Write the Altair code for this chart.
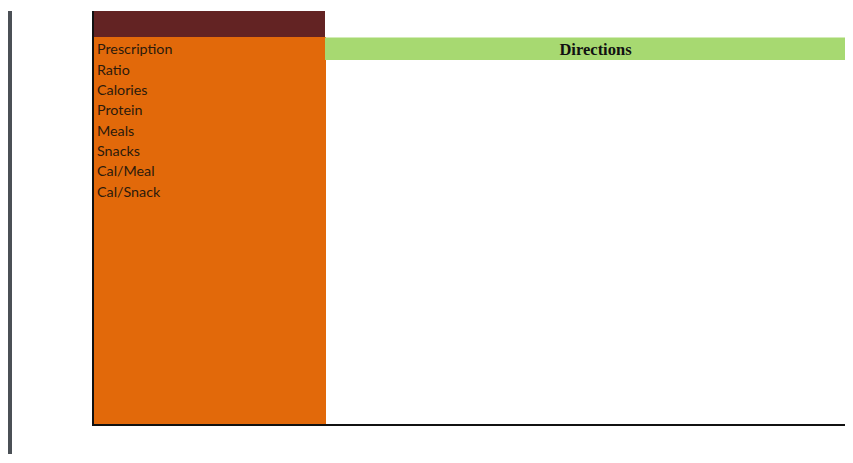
import altair as alt
import pandas as pd

# Row labels of the left panel
labels = ["Prescription", "Ratio", "Calories", "Protein", "Meals", "Snacks", "Cal/Meal", "Cal/Snack"]
header_text = ["Directions"]

# Layout blocks (spreadsheet-like regions), in chart pixel units
block_names = ["sidebar", "frame_left", "header", "panel", "directions_bar", "frame_bottom"]
block_x1 = [0, 84, 86, 86, 317, 85]
block_x2 = [4, 86, 317, 318, 845, 845]
block_y1 = [3, 3, 3, 29, 29.5, 416]
block_y2 = [447, 418, 29.5, 416, 52, 418]
block_colors = ["#4b5056", "#111111", "#632323", "#e2690a", "#a7d971", "#111111"]

W, H = 837, 446

blocks = pd.DataFrame({
    "name": block_names, "x1": block_x1, "x2": block_x2,
    "y1": block_y1, "y2": block_y2, "color": block_colors,
})

xs = alt.Scale(domain=[0, W], range=[0, W], nice=False, zero=False)
ys = alt.Scale(domain=[0, H], range=[0, H], nice=False, zero=False)

rects = alt.Chart(blocks).mark_rect().encode(
    x=alt.X("x1:Q", scale=xs, axis=None),
    x2="x2:Q",
    y=alt.Y("y1:Q", scale=ys, axis=None),
    y2="y2:Q",
    color=alt.Color("color:N", scale=None),
)

lab_df = pd.DataFrame({"label": labels})
label_text = alt.Chart(lab_df).mark_text(
    align="left", baseline="alphabetic", font="Lato", fontSize=14.3, color="#2b1a0c"
).encode(
    x=alt.value(89),
    y=alt.Y("label:N", sort=labels, axis=None,
            scale=alt.Scale(type="point", range=[46.3, 188.7], padding=0)),
    text="label:N",
)

hdr_df = pd.DataFrame({"t": header_text})
hdr = alt.Chart(hdr_df).mark_text(
    align="center", baseline="alphabetic", font="Liberation Serif", fontSize=16.5,
    fontWeight="bold", color="#111111"
).encode(
    x=alt.value(587.5),
    y=alt.value(47),
    text="t:N",
)

chart = alt.layer(rects, label_text, hdr).resolve_scale(y="independent").properties(
    width=W, height=H, padding=0, autosize=alt.AutoSizeParams(type="none")
).configure_view(stroke=None)

chart.save("out.html", embed_options={"renderer": "svg", "actions": False})
